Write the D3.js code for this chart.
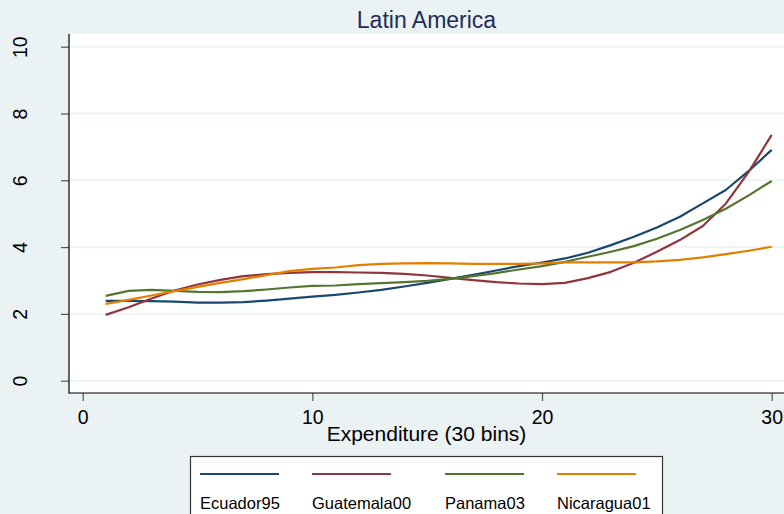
<!DOCTYPE html>
<html><head><meta charset="utf-8">
<script src="https://cdn.jsdelivr.net/npm/d3@7"></script>
<style>
html,body{margin:0;padding:0;background:#eaf2f3;}
svg{display:block;font-family:"Liberation Sans",Arial,sans-serif;}
</style></head>
<body>
<svg id="chart" width="784" height="514"></svg>
<script>
const bins = d3.range(1, 31);
const ecuador95 = [2.39,2.39,2.38,2.37,2.34,2.34,2.35,2.40,2.46,2.52,2.57,2.64,2.72,2.82,2.93,3.05,3.17,3.30,3.43,3.54,3.66,3.83,4.06,4.31,4.59,4.91,5.31,5.71,6.28,6.91];
const guatemala00 = [1.97,2.20,2.46,2.70,2.88,3.02,3.13,3.19,3.23,3.25,3.25,3.24,3.23,3.20,3.15,3.08,3.01,2.95,2.91,2.89,2.93,3.07,3.26,3.53,3.86,4.21,4.63,5.30,6.25,7.36];
const panama03 = [2.54,2.69,2.72,2.69,2.66,2.65,2.68,2.73,2.79,2.84,2.85,2.89,2.92,2.95,2.99,3.05,3.13,3.22,3.33,3.43,3.56,3.71,3.86,4.03,4.25,4.51,4.81,5.15,5.55,5.98];
const nicaragua01 = [2.30,2.42,2.55,2.68,2.81,2.93,3.04,3.16,3.28,3.35,3.39,3.46,3.50,3.51,3.52,3.51,3.50,3.50,3.50,3.51,3.54,3.54,3.54,3.54,3.57,3.62,3.69,3.79,3.89,4.01];
const seriesNames = ["Ecuador95","Guatemala00","Panama03","Nicaragua01"];
const seriesColors = ["#1a476f","#90353b","#55752f","#e37e00"];
const xTicks = [0,10,20,30];
const yTicks = [0,2,4,6,8,10];
const title = "Latin America";
const xTitle = "Expenditure (30 bins)";

const series = [ecuador95, guatemala00, panama03, nicaragua01];
const svg = d3.select("#chart");

const plot = {left:69, top:34, right:784, bottom:393};
const x = d3.scaleLinear().domain([0,30]).range([82.7,771.7]);
const y = d3.scaleLinear().domain([0,10]).range([380.7,46.7]);

// plot region
svg.append("rect").attr("x",plot.left).attr("y",plot.top)
  .attr("width",plot.right-plot.left).attr("height",plot.bottom-plot.top).attr("fill","#ffffff");

// gridlines
svg.append("g").selectAll("line").data(yTicks).join("line")
  .attr("x1",plot.left+1).attr("x2",plot.right)
  .attr("y1",d=>y(d)).attr("y2",d=>y(d))
  .attr("stroke","#eaf2f3").attr("stroke-width",1.5);

// lines
const line = d3.line().x((d,i)=>x(bins[i])).y(d=>y(d));
svg.append("g").selectAll("path").data(series).join("path")
  .attr("d",d=>line(d)).attr("fill","none")
  .attr("stroke",(d,i)=>seriesColors[i]).attr("stroke-width",2.2)
  .attr("stroke-linejoin","round");

// y axis
const yAxis = d3.axisLeft(y).tickValues(yTicks).tickSize(8).tickPadding(0).tickFormat(d3.format("d"));
const gy = svg.append("g").attr("transform",`translate(${plot.left},0)`).call(yAxis);
gy.select(".domain").remove();
gy.append("line").attr("x1",0).attr("x2",0).attr("y1",plot.top).attr("y2",plot.bottom+0.5).attr("stroke","#000").attr("stroke-width",1.2);
gy.selectAll(".tick line").attr("stroke","#555").attr("stroke-width",1.2);
gy.selectAll(".tick text").attr("x",0).attr("dy",0)
  .attr("transform","translate(-42,0) rotate(-90)")
  .attr("text-anchor","middle")
  .attr("font-size",19.5).attr("fill","#000").attr("font-family","Liberation Sans, Arial, sans-serif");

// x axis
const xAxis = d3.axisBottom(x).tickValues(xTicks).tickSize(8).tickPadding(5).tickFormat(d3.format("d"));
const gx = svg.append("g").attr("transform",`translate(0,${plot.bottom})`).call(xAxis);
gx.select(".domain").remove();
gx.append("line").attr("x1",plot.left).attr("x2",plot.right).attr("y1",0).attr("y2",0).attr("stroke","#000").attr("stroke-width",1.2);
gx.selectAll(".tick line").attr("stroke","#555").attr("stroke-width",1.2);
gx.selectAll(".tick text").attr("y",30.5).attr("dy",0).attr("font-size",19.5).attr("fill","#000").attr("font-family","Liberation Sans, Arial, sans-serif");

// titles
svg.append("text").attr("x",(plot.left+plot.right)/2).attr("y",28).attr("text-anchor","middle")
  .attr("font-size",23).attr("fill","#1e2d5c").text(title);
svg.append("text").attr("x",(plot.left+plot.right)/2).attr("y",440.5).attr("text-anchor","middle")
  .attr("font-size",21).attr("fill","#000").text(xTitle);

// legend
const lg = svg.append("g");
lg.append("rect").attr("x",190.5).attr("y",456.5).attr("width",472).attr("height",70)
  .attr("fill","#fff").attr("stroke","#333").attr("stroke-width",1.2);
const legX = [200,312,445,557];
seriesNames.forEach((n,i)=>{
  lg.append("line").attr("x1",legX[i]).attr("x2",legX[i]+79).attr("y1",474).attr("y2",474)
    .attr("stroke",seriesColors[i]).attr("stroke-width",2.2);
  lg.append("text").attr("x",legX[i]).attr("y",508.5).attr("font-size",16.5).attr("fill","#000").text(n);
});
</script>
</body></html>
